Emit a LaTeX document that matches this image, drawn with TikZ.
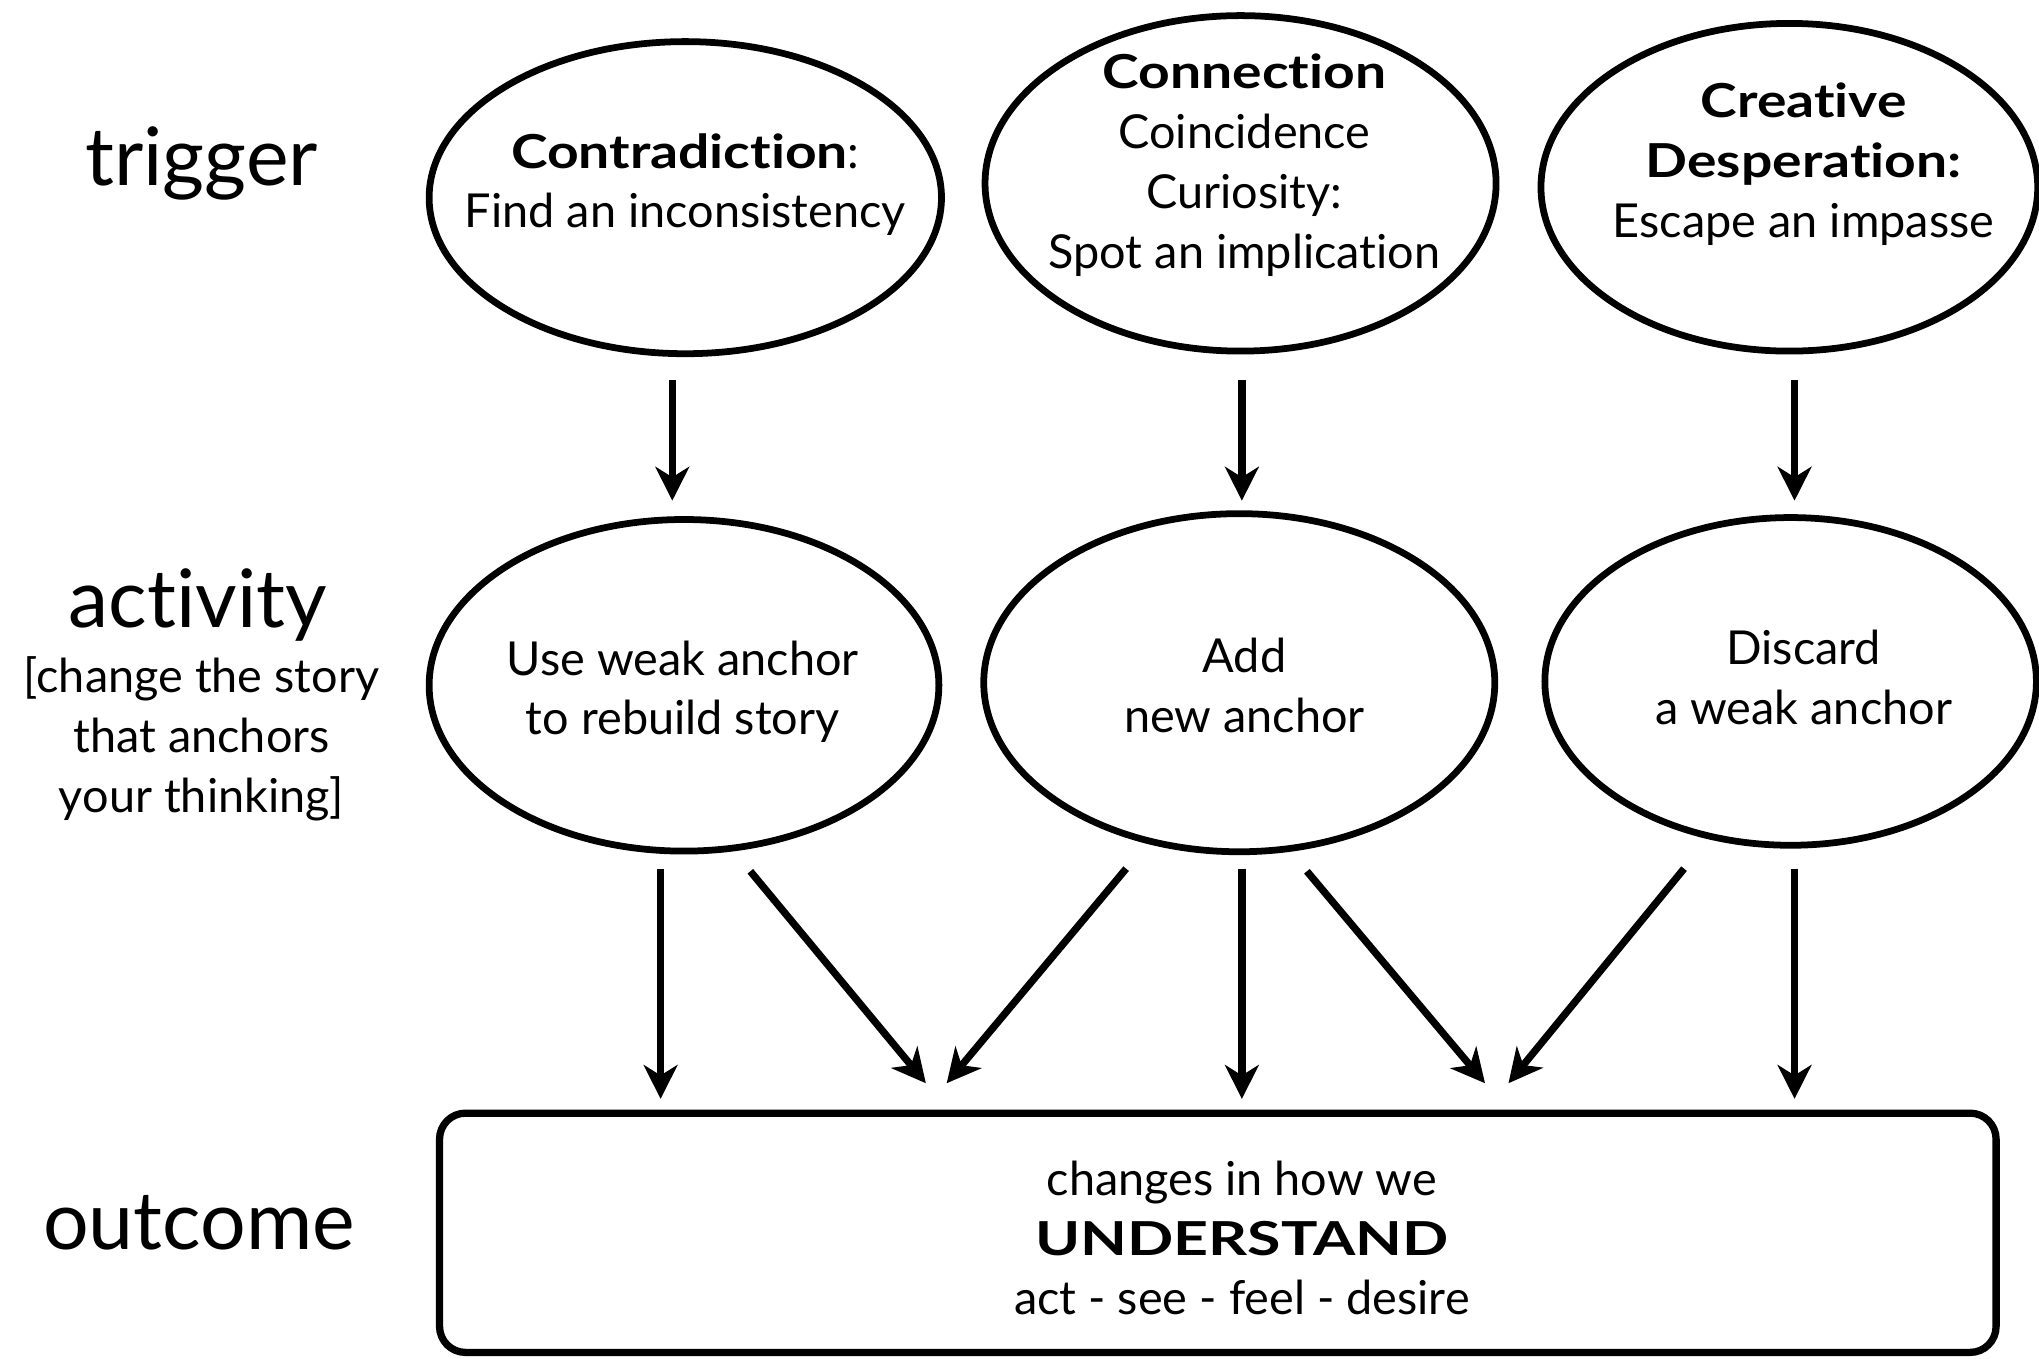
\documentclass[tikz,border=0pt]{standalone}
\usepackage{fontspec}
\setmainfont{Lato}[Ligatures={NoCommon}]
\usetikzlibrary{arrows.meta,shapes.geometric}
\newcommand\headword[1]{{\bfseries\addfontfeature{FakeStretch=1.18}#1}}
\begin{document}
\begin{tikzpicture}[x=0.5pt,y=-0.5pt,
  bubble/.style={draw, ellipse, line width=2.6pt, inner sep=0pt},
  body/.style={align=center, font=\fontsize{18}{23}\selectfont, inner sep=0pt},
  rowname/.style={font=\fontsize{31}{36}\selectfont, inner sep=0pt},
  flow/.style={line width=2.8pt, -{Stealth[length=13pt,width=13pt,inset=4pt]}},
  outbox/.style={draw, line width=2.8pt, rounded corners=10pt}]
\useasboundingbox (0,0) rectangle (1568,1045);

% row names
\node[rowname] (ltrig) at (155,126) {trigger};
\node[rowname] (lact) at (152,465) {activity};
\node[body] (lactnote) at (155,568) {[change the story\\that anchors\\your thinking]};
\node[rowname] (lout) at (153,940) {outcome};

% trigger row
\node[bubble, minimum width=197pt, minimum height=120pt] (t1) at (527,152) {};
\node[bubble, minimum width=196.5pt, minimum height=129pt] (t2) at (954,141) {};
\node[bubble, minimum width=191pt, minimum height=126pt] (t3) at (1376,144) {};
\node[body] (t1txt) at (527,142) {\headword{Contradiction}:\\Find an inconsistency};
\node[body] (t2txt) at (957,127) {\headword{Connection}\\Coincidence\\Curiosity:\\Spot an implication};
\node[body] (t3txt) at (1387,126) {\headword{Creative}\\\headword{Desperation:}\\Escape an impasse};

% activity row
\node[bubble, minimum width=196pt, minimum height=127.5pt] (a1) at (526,527) {};
\node[bubble, minimum width=196.5pt, minimum height=130pt] (a2) at (953,525) {};
\node[bubble, minimum width=189pt, minimum height=126pt] (a3) at (1377,524) {};
\node[body] (a1txt) at (525,532) {Use weak anchor\\to rebuild story};
\node[body] (a2txt) at (957,527) {Add\\new anchor};
\node[body] (a3txt) at (1387,521) {Discard\\a weak anchor};

% outcome box
\node[outbox, minimum width=598.5pt, minimum height=92pt] (out) at (936.5,948) {};
\node[body] (outtxt) at (955,952) {changes in how we\\{\bfseries\addfontfeature{FakeStretch=1.3}UNDERSTAND}\\act - see - feel - desire};

% arrow end points
\coordinate (p1a) at (517,292);  \coordinate (p1b) at (517,385);
\coordinate (p2a) at (955,292);  \coordinate (p2b) at (955,385);
\coordinate (p3a) at (1380,292); \coordinate (p3b) at (1380,385);

\coordinate (q1a) at (508,668);  \coordinate (q1b) at (508,845);
\coordinate (q2a) at (577,670);  \coordinate (q2b) at (712,833);
\coordinate (q3a) at (866,668);  \coordinate (q3b) at (728,833);
\coordinate (q4a) at (955,668);  \coordinate (q4b) at (955,845);
\coordinate (q5a) at (1005,670); \coordinate (q5b) at (1142,833);
\coordinate (q6a) at (1295,668); \coordinate (q6b) at (1160,833);
\coordinate (q7a) at (1380,668); \coordinate (q7b) at (1380,845);

% trigger -> activity
\draw[flow] (p1a) -- (p1b);
\draw[flow] (p2a) -- (p2b);
\draw[flow] (p3a) -- (p3b);

% activity -> outcome
\draw[flow] (q1a) -- (q1b);
\draw[flow] (q2a) -- (q2b);
\draw[flow] (q3a) -- (q3b);
\draw[flow] (q4a) -- (q4b);
\draw[flow] (q5a) -- (q5b);
\draw[flow] (q6a) -- (q6b);
\draw[flow] (q7a) -- (q7b);
\end{tikzpicture}
\end{document}
